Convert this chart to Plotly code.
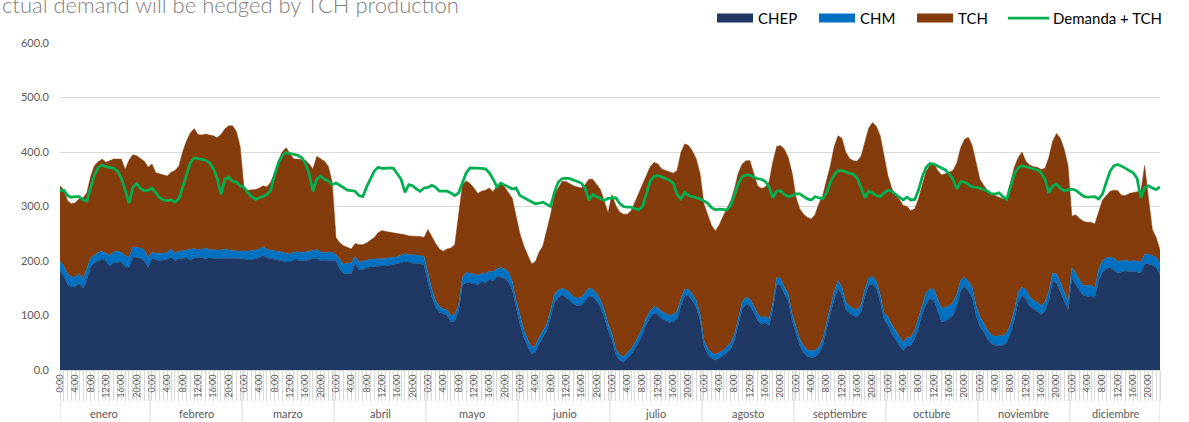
import plotly.graph_objects as go

months = ["enero", "febrero", "marzo", "abril", "mayo", "junio",
          "julio", "agosto", "septiembre", "octubre", "noviembre", "diciembre"]
hour_ticks = ["0:00", "4:00", "8:00", "12:00", "16:00", "20:00"]

# CHEP, one row of 24 hourly values per month
chep = [
    182, 172, 157, 152, 153, 159, 150, 165, 190, 197, 200, 204, 200, 191, 197, 198, 198, 190, 188, 208, 206, 205, 200, 188,
    205, 202, 200, 202, 203, 207, 200, 204, 204, 206, 202, 206, 206, 206, 204, 206, 205, 205, 205, 206, 205, 205, 205, 204,
    204, 202, 202, 204, 206, 210, 206, 204, 203, 202, 200, 198, 198, 202, 202, 200, 201, 202, 205, 205, 200, 202, 201, 200,
    200, 186, 176, 177, 177, 195, 184, 184, 188, 189, 190, 191, 191, 191, 192, 194, 195, 197, 199, 198, 196, 196, 195, 192,
    160, 135, 115, 106, 103, 100, 88, 90, 108, 155, 161, 160, 158, 157, 162, 160, 166, 163, 172, 170, 168, 162, 147, 115,
    84, 60, 43, 30, 32, 48, 60, 72, 96, 124, 133, 138, 133, 128, 121, 118, 119, 127, 136, 134, 127, 115, 97, 72,
    55, 29, 18, 14, 21, 29, 39, 51, 66, 84, 97, 104, 102, 94, 91, 87, 89, 94, 118, 136, 136, 127, 115, 91,
    45, 29, 22, 18, 22, 26, 32, 39, 54, 84, 112, 121, 118, 106, 91, 84, 87, 81, 112, 158, 155, 139, 127, 91,
    70, 45, 32, 25, 23, 24, 30, 45, 75, 105, 130, 150, 138, 112, 104, 100, 97, 107, 135, 155, 158, 150, 125, 92,
    83, 67, 55, 45, 36, 44, 45, 58, 78, 103, 122, 131, 128, 108, 88, 90, 95, 100, 118, 145, 153, 145, 133, 100,
    80, 70, 57, 48, 45, 45, 45, 50, 68, 92, 125, 137, 130, 117, 112, 107, 102, 108, 128, 163, 160, 143, 127, 110,
    168, 158, 145, 137, 135, 136, 133, 165, 180, 186, 188, 183, 178, 180, 182, 180, 181, 180, 178, 195, 195, 192, 188, 175,
]

# CHM
chm = [
    18, 18, 19, 19, 17, 18, 17, 20, 15, 14, 16, 14, 14, 19, 20, 20, 18, 20, 19, 18, 19, 19, 20, 19,
    11, 12, 14, 12, 13, 15, 14, 14, 15, 14, 20, 17, 14, 16, 20, 15, 15, 15, 15, 16, 15, 14, 14, 14,
    15, 16, 17, 17, 16, 16, 15, 16, 16, 16, 16, 16, 15, 14, 15, 16, 15, 16, 15, 16, 16, 14, 15, 16,
    12, 16, 18, 19, 20, 13, 15, 15, 14, 14, 14, 13, 13, 14, 14, 13, 13, 14, 14, 14, 16, 15, 15, 16,
    18, 13, 12, 10, 9, 10, 12, 12, 12, 15, 18, 18, 18, 17, 16, 16, 16, 17, 14, 18, 18, 18, 16, 13,
    14, 14, 13, 12, 12, 12, 12, 12, 14, 14, 14, 12, 14, 14, 13, 14, 14, 15, 14, 14, 14, 13, 13, 13,
    12, 10, 10, 10, 10, 10, 11, 12, 12, 12, 12, 12, 12, 13, 13, 13, 13, 14, 13, 12, 12, 12, 12, 12,
    10, 10, 10, 10, 10, 10, 11, 11, 12, 12, 13, 13, 12, 12, 12, 12, 12, 12, 12, 12, 13, 13, 13, 12,
    12, 12, 12, 12, 12, 12, 12, 12, 12, 13, 14, 14, 14, 13, 13, 13, 13, 13, 13, 14, 14, 13, 13, 12,
    15, 16, 17, 17, 15, 15, 15, 15, 18, 19, 20, 18, 20, 22, 25, 25, 23, 24, 22, 20, 17, 18, 19, 18,
    18, 16, 16, 16, 17, 18, 18, 19, 16, 18, 18, 15, 18, 17, 16, 17, 16, 17, 17, 15, 16, 18, 17, 15,
    20, 20, 20, 18, 20, 20, 18, 20, 21, 20, 19, 22, 21, 20, 20, 19, 20, 20, 20, 17, 18, 18, 19, 20,
]

# top of the stack (CHEP + CHM + TCH)
total = [
    338, 330, 310, 305, 307, 314, 316, 325, 355, 375, 382, 387, 381, 384, 387, 387, 387, 368, 385, 395, 393, 388, 383, 372,
    378, 362, 360, 358, 356, 363, 366, 374, 400, 420, 435, 443, 432, 431, 433, 431, 430, 426, 432, 442, 448, 448, 438, 410,
    335, 330, 330, 331, 334, 338, 336, 345, 362, 385, 400, 408, 397, 387, 387, 386, 385, 378, 369, 392, 388, 383, 374, 345,
    243, 233, 228, 225, 222, 232, 230, 230, 233, 238, 243, 252, 256, 254, 253, 251, 250, 249, 248, 246, 246, 246, 245, 243,
    258, 245, 232, 222, 218, 222, 224, 230, 285, 340, 347, 342, 334, 324, 328, 330, 334, 327, 338, 344, 336, 326, 315, 282,
    250, 228, 210, 195, 198, 216, 228, 255, 285, 322, 335, 346, 346, 342, 338, 336, 334, 340, 350, 350, 340, 331, 310, 288,
    322, 302, 290, 286, 286, 292, 308, 323, 341, 357, 373, 381, 378, 369, 366, 363, 361, 366, 399, 415, 412, 402, 387, 360,
    305, 285, 265, 255, 266, 282, 296, 310, 333, 362, 378, 384, 384, 360, 338, 333, 336, 345, 382, 410, 412, 405, 390, 362,
    318, 296, 286, 280, 277, 285, 305, 320, 345, 375, 410, 430, 425, 400, 388, 384, 383, 392, 418, 444, 454, 447, 430, 395,
    357, 334, 320, 313, 302, 300, 292, 296, 314, 340, 365, 375, 380, 366, 358, 360, 363, 366, 380, 408, 423, 427, 412, 378,
    350, 339, 329, 323, 320, 317, 314, 318, 345, 372, 390, 400, 383, 376, 373, 372, 368, 370, 390, 420, 434, 425, 405, 375,
    282, 285, 278, 273, 271, 271, 268, 292, 312, 320, 328, 330, 329, 320, 320, 324, 326, 327, 328, 375, 315, 258, 243, 220,
]

# Demanda + TCH
demanda_tch = [
    329, 330, 320, 317, 318, 318, 312, 310, 335, 358, 372, 376, 373, 372, 370, 365, 352, 330, 306, 335, 342, 333, 329, 330,
    334, 325, 316, 312, 311, 312, 308, 314, 336, 362, 380, 389, 388, 387, 385, 380, 370, 352, 322, 350, 354, 346, 345, 338,
    335, 325, 318, 313, 316, 318, 322, 330, 358, 380, 393, 399, 397, 396, 394, 390, 380, 360, 328, 350, 356, 350, 347, 340,
    343, 339, 335, 330, 329, 328, 320, 318, 336, 350, 365, 372, 370, 370, 371, 370, 360, 350, 326, 340, 338, 332, 328, 334,
    335, 339, 335, 328, 328, 328, 325, 320, 325, 345, 362, 371, 371, 370, 370, 369, 362, 350, 336, 343, 340, 336, 332, 334,
    320, 316, 312, 308, 305, 306, 308, 304, 300, 326, 345, 351, 352, 351, 348, 346, 343, 334, 312, 322, 318, 314, 311, 315,
    315, 316, 306, 300, 299, 299, 296, 294, 300, 326, 347, 355, 357, 354, 351, 348, 343, 322, 314, 326, 320, 318, 315, 314,
    310, 306, 298, 294, 295, 295, 294, 302, 322, 342, 355, 358, 357, 354, 351, 350, 346, 336, 316, 328, 329, 322, 318, 320,
    323, 323, 318, 314, 312, 318, 316, 314, 325, 345, 358, 366, 366, 363, 361, 359, 352, 335, 316, 328, 325, 320, 318, 325,
    330, 328, 322, 317, 312, 317, 312, 313, 330, 355, 372, 379, 378, 374, 371, 367, 360, 350, 332, 346, 345, 340, 336, 335,
    334, 331, 328, 323, 323, 325, 318, 313, 335, 360, 371, 375, 373, 371, 370, 367, 362, 350, 325, 338, 341, 333, 329, 330,
    332, 330, 325, 319, 317, 317, 318, 314, 323, 345, 365, 375, 377, 374, 370, 367, 362, 352, 316, 335, 338, 334, 331, 336,
]

tch = [t - a - b for t, a, b in zip(total, chep, chm)]
x = list(range(len(chep)))

NAVY = "#203864"
BLUE = "#0070c0"
BROWN = "#843c0c"
GREEN = "#00b050"
GRID = "#d9d9d9"
TXT = "#595959"
FONT = "Lato"

W, H = 1189, 422
PLOT_LEFT, PLOT_RIGHT = 60, 1160
PLOT_TOP, PLOT_BOTTOM = 43, 370


def px(p):
    # pixel column -> paper x
    return (p - PLOT_LEFT) / (PLOT_RIGHT - PLOT_LEFT)


def py(p):
    # pixel row -> paper y
    return (PLOT_BOTTOM - p) / (PLOT_BOTTOM - PLOT_TOP)


fig = go.Figure()
for name, vals, col in [("CHEP", chep, NAVY), ("CHM", chm, BLUE), ("TCH", tch, BROWN)]:
    fig.add_trace(go.Scatter(
        x=x, y=vals, name=name, mode="lines", stackgroup="one", showlegend=False,
        line=dict(width=0.5, color=col), fillcolor=col,
    ))
fig.add_trace(go.Scatter(
    x=x, y=demanda_tch, name="Demanda + TCH", mode="lines", showlegend=False,
    line=dict(color=GREEN, width=2.75),
))

# tick labels every 4 hours
tickvals = [m * 24 + h for m in range(len(months)) for h in range(0, 24, 4)]
ticktext = [hour_ticks[h // 4] for m in range(len(months)) for h in range(0, 24, 4)]

shapes = []
for k in range(len(months) + 1):
    xv = min(max(24 * k - 0.5, 0), len(x) - 1)
    shapes.append(dict(type="line", xref="x", yref="paper", x0=xv, x1=xv,
                       y0=py(422), y1=0, line=dict(color=GRID, width=1)))

annotations = [
    dict(x=24 * i + 11.5, y=py(413), xref="x", yref="paper", text=m, showarrow=False,
         font=dict(size=11, color=TXT, family=FONT), yanchor="middle")
    for i, m in enumerate(months)
]
annotations.append(dict(
    x=px(0), y=py(5), xref="paper", yref="paper", xanchor="left", yanchor="middle",
    text="ctual demand will be hedged by TCH production", showarrow=False,
    font=dict(size=22, color="#808080", family=FONT, weight=300),
))

# legend drawn by hand: swatch, then label
legend_items = [("CHEP", NAVY, 717, "box"), ("CHM", BLUE, 819, "box"),
                ("TCH", BROWN, 917, "box"), ("Demanda + TCH", GREEN, 1008, "line")]
LEG_Y = 18
for label, col, x0, kind in legend_items:
    if kind == "box":
        shapes.append(dict(type="rect", xref="paper", yref="paper",
                           x0=px(x0), x1=px(x0 + 36), y0=py(LEG_Y + 4.5), y1=py(LEG_Y - 4.5),
                           fillcolor=col, line=dict(width=0)))
        tx = x0 + 39
    else:
        shapes.append(dict(type="line", xref="paper", yref="paper",
                           x0=px(x0), x1=px(x0 + 41), y0=py(LEG_Y), y1=py(LEG_Y),
                           line=dict(color=col, width=2.75)))
        tx = x0 + 43
    annotations.append(dict(x=px(tx), y=py(LEG_Y), xref="paper", yref="paper",
                            xanchor="left", yanchor="middle", text=label, showarrow=False,
                            font=dict(size=15, color="#000000", family=FONT)))

fig.update_layout(
    width=W, height=H, autosize=False,
    margin=dict(l=PLOT_LEFT, r=W - PLOT_RIGHT, t=PLOT_TOP, b=H - PLOT_BOTTOM),
    plot_bgcolor="white", paper_bgcolor="white",
    font=dict(family=FONT, color=TXT),
    showlegend=False,
    shapes=shapes,
    annotations=annotations,
    hovermode=False,
)
fig.update_xaxes(
    range=[0, len(x) - 1], tickmode="array", tickvals=tickvals, ticktext=ticktext,
    tickangle=-90, tickfont=dict(size=9, color=TXT), showgrid=False, zeroline=False,
    showline=True, linecolor=GRID, ticks="",
    minor=dict(dtick=1, tick0=0, ticks="outside", ticklen=30, tickcolor=GRID, tickwidth=1, showgrid=False),
)
fig.update_yaxes(
    range=[0, 600], dtick=100, tickformat=".1f", showgrid=True, gridcolor=GRID,
    zeroline=False, showline=False, tickfont=dict(size=11, color=TXT), ticklabelstandoff=10,
)

fig.write_html("out.html", config={"displayModeBar": False},
               post_script="document.body.style.margin='0px';")
